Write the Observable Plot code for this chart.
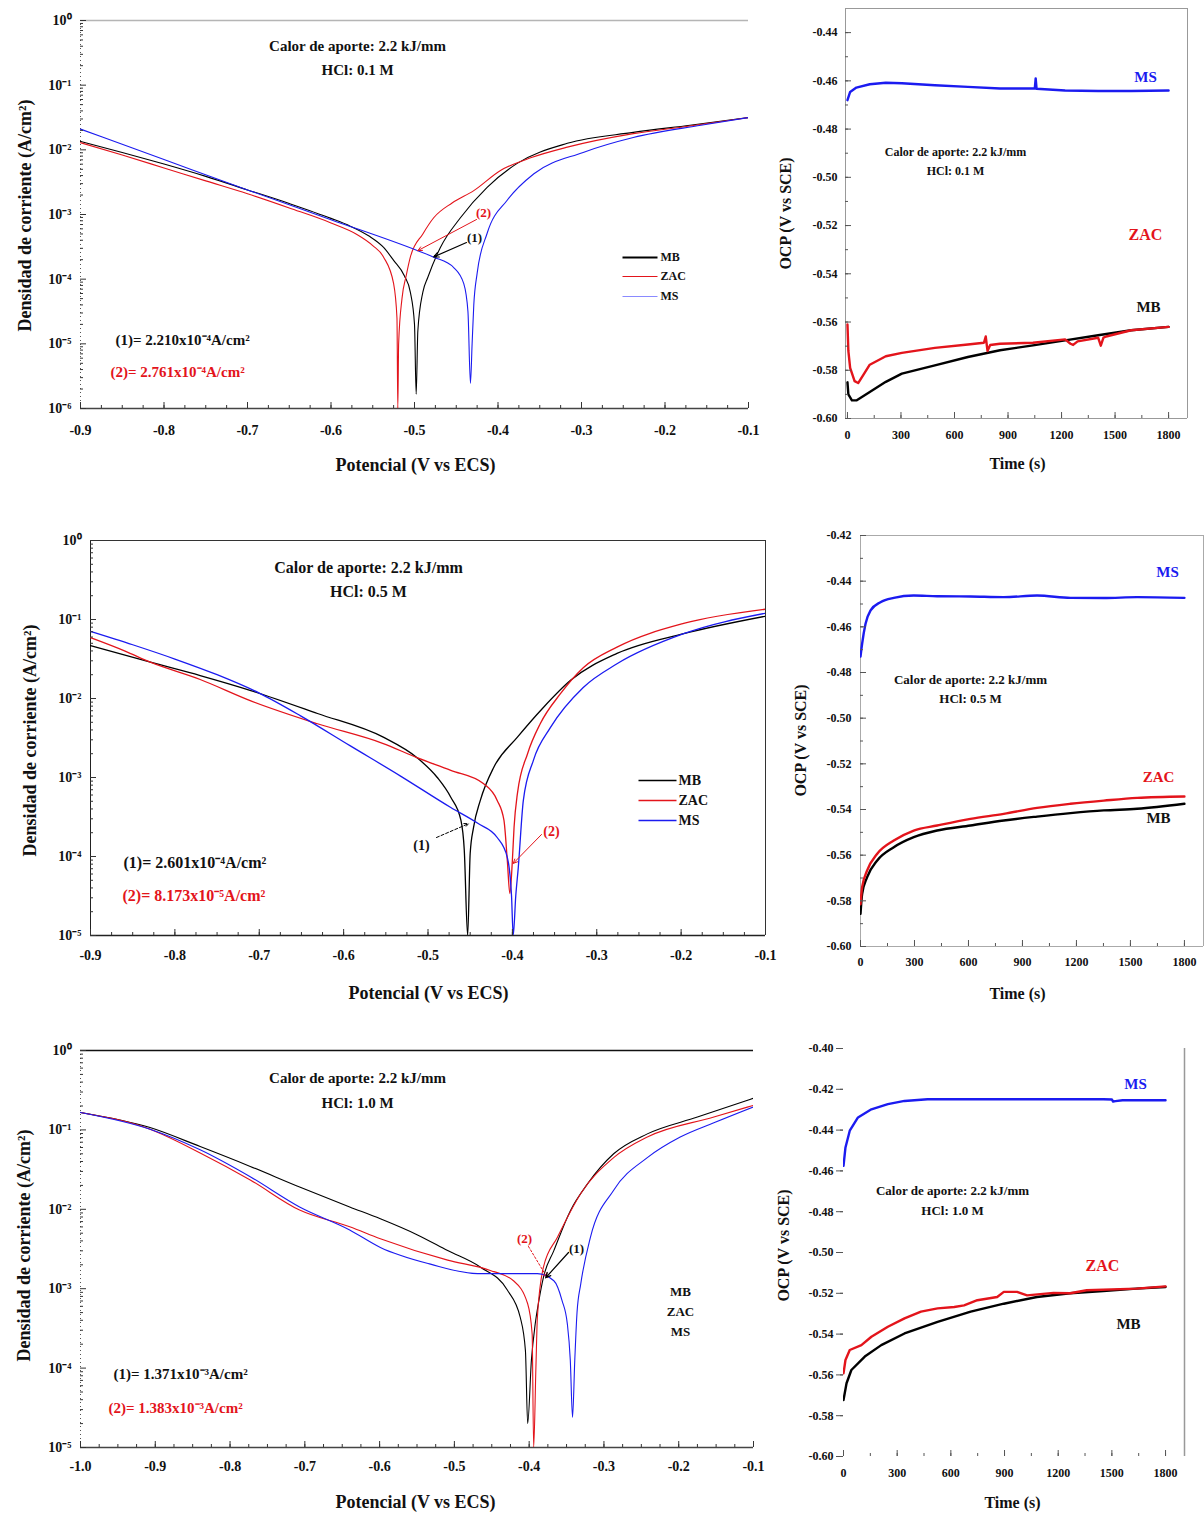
<!DOCTYPE html>
<html><head><meta charset="utf-8">
<script src="https://cdn.jsdelivr.net/npm/d3@7"></script>
<script src="https://cdn.jsdelivr.net/npm/@observablehq/plot@0.6"></script>
<style>
body{margin:0;background:#fff;}
#fig{position:relative;width:1204px;height:1515px;overflow:hidden;background:#fff;}
#fig > div{position:absolute;}
</style></head><body><div id="fig"></div>
<script>
// ---------------- DATA ----------------
const series = ["MB", "ZAC", "MS"];
// Tafel 0.1 M
const A_MB_E = [-0.9,-0.85,-0.8,-0.75,-0.7,-0.65,-0.6,-0.577,-0.555,-0.537,-0.525,-0.512,-0.505,-0.5,-0.498,-0.496,-0.49,-0.484,-0.469,-0.445,-0.413,-0.377,-0.317,-0.238,-0.17,-0.1];
const A_MB_I = [1.35e-2,9.12e-3,6.03e-3,3.89e-3,2.40e-3,1.48e-3,8.71e-4,6.61e-4,4.68e-4,3.09e-4,1.95e-4,1.12e-4,6.31e-5,2.0e-5,1.66e-6,1.58e-5,6.31e-5,1.07e-4,3.09e-4,8.91e-4,2.63e-3,6.17e-3,1.26e-2,1.86e-2,2.40e-2,3.16e-2];
const A_ZAC_E = [-0.9,-0.85,-0.8,-0.75,-0.7,-0.65,-0.6,-0.57,-0.55,-0.537,-0.525,-0.521,-0.520,-0.519,-0.515,-0.51,-0.505,-0.49,-0.477,-0.455,-0.429,-0.397,-0.36,-0.317,-0.238,-0.17,-0.1];
const A_ZAC_I = [1.29e-2,8.32e-3,5.25e-3,3.31e-3,2.09e-3,1.26e-3,7.41e-4,5.01e-4,3.31e-4,2.19e-4,8.51e-5,2.51e-5,1.0e-6,1.0e-5,5.01e-5,1.12e-4,2.19e-4,5.01e-4,8.91e-4,1.51e-3,2.34e-3,4.79e-3,7.59e-3,1.10e-2,1.78e-2,2.34e-2,3.16e-2];
const A_MS_E = [-0.9,-0.8,-0.7,-0.6,-0.496,-0.477,-0.453,-0.441,-0.436,-0.433,-0.431,-0.429,-0.425,-0.413,-0.389,-0.357,-0.298,-0.238,-0.157,-0.1];
const A_MS_I = [2.09e-2,7.08e-3,2.40e-3,8.32e-4,2.75e-4,2.19e-4,1.51e-4,8.51e-5,3.16e-5,2.45e-6,1.0e-5,3.98e-5,1.23e-4,5.13e-4,1.66e-3,4.27e-3,9.12e-3,1.55e-2,2.40e-2,3.16e-2];
const A_icorr = [2.210e-4, 2.761e-4];
const A_tipE = [-0.477, -0.496];
// Tafel 0.5 M
const C_MB_E = [-0.9,-0.829,-0.77,-0.71,-0.631,-0.553,-0.513,-0.489,-0.473,-0.461,-0.457,-0.453,-0.45,-0.446,-0.438,-0.422,-0.394,-0.363,-0.331,-0.276,-0.197,-0.1];
const C_MB_I = [4.68e-2,2.88e-2,1.95e-2,1.26e-2,6.46e-3,3.24e-3,1.78e-3,1.0e-3,5.62e-4,2.88e-4,1.20e-4,1.0e-5,1.10e-4,2.34e-4,5.13e-4,1.35e-3,3.24e-3,7.76e-3,1.70e-2,3.72e-2,6.61e-2,0.110];
const C_ZAC_E = [-0.9,-0.859,-0.829,-0.77,-0.71,-0.631,-0.553,-0.513,-0.473,-0.434,-0.418,-0.41,-0.406,-0.403,-0.4,-0.398,-0.394,-0.382,-0.367,-0.343,-0.316,-0.276,-0.197,-0.1];
const C_ZAC_I = [5.89e-2,3.98e-2,2.88e-2,1.74e-2,9.33e-3,4.79e-3,2.69e-3,1.78e-3,1.23e-3,8.32e-4,5.13e-4,2.88e-4,8.91e-5,3.39e-5,8.91e-5,2.34e-4,6.31e-4,2.0e-3,4.79e-3,1.15e-2,2.45e-2,4.47e-2,8.91e-2,0.135];
const C_MS_E = [-0.9,-0.85,-0.8,-0.75,-0.7,-0.651,-0.592,-0.533,-0.473,-0.441,-0.418,-0.406,-0.401,-0.399,-0.396,-0.393,-0.387,-0.375,-0.355,-0.316,-0.276,-0.197,-0.1];
const C_MS_I = [7.08e-2,4.79e-2,3.16e-2,2.0e-2,1.17e-2,6.03e-3,2.51e-3,1.05e-3,4.17e-4,2.63e-4,1.74e-4,9.77e-5,3.16e-5,1.0e-5,3.16e-5,7.24e-5,5.13e-4,1.66e-3,4.27e-3,1.38e-2,2.75e-2,6.61e-2,0.120];
const C_icorr = [2.601e-4, 8.173e-5];
const C_tipE = [-0.452, -0.399];
// Tafel 1.0 M
const E_MB_E = [-1.0,-0.907,-0.84,-0.773,-0.707,-0.64,-0.599,-0.55,-0.509,-0.465,-0.429,-0.412,-0.405,-0.402,-0.397,-0.392,-0.387,-0.381,-0.367,-0.345,-0.322,-0.287,-0.242,-0.175,-0.1];
const E_MB_I = [0.166,0.107,6.17e-2,3.47e-2,1.91e-2,1.07e-2,7.59e-3,4.79e-3,3.02e-3,1.86e-3,9.55e-4,4.37e-4,1.66e-4,2.0e-5,1.26e-4,3.55e-4,7.08e-4,1.38e-3,3.02e-3,9.55e-3,2.09e-2,5.01e-2,8.91e-2,0.145,0.251];
const E_ZAC_E = [-1.0,-0.907,-0.84,-0.773,-0.707,-0.64,-0.599,-0.509,-0.452,-0.421,-0.402,-0.396,-0.394,-0.391,-0.389,-0.381,-0.362,-0.331,-0.287,-0.242,-0.153,-0.1];
const E_ZAC_I = [0.166,0.102,5.13e-2,2.34e-2,9.77e-3,6.03e-3,4.27e-3,2.29e-3,1.70e-3,1.26e-3,6.46e-4,2.69e-4,1.0e-5,1.0e-4,4.37e-4,1.86e-3,4.47e-3,1.58e-2,4.47e-2,8.13e-2,0.145,0.204];
const E_MS_E = [-1.0,-0.907,-0.84,-0.773,-0.707,-0.64,-0.599,-0.532,-0.469,-0.389,-0.367,-0.356,-0.349,-0.345,-0.342,-0.339,-0.336,-0.331,-0.318,-0.287,-0.242,-0.198,-0.153,-0.1];
const E_MS_I = [0.166,0.102,5.62e-2,2.57e-2,1.07e-2,5.50e-3,3.31e-3,2.04e-3,1.55e-3,1.55e-3,1.26e-3,7.08e-4,3.63e-4,1.26e-4,2.40e-5,1.26e-4,5.01e-4,1.15e-3,4.47e-3,1.74e-2,4.47e-2,8.13e-2,0.123,0.195];
const E_icorr = [1.371e-3, 1.383e-3];
const E_tipE = [-0.378, -0.376];
// OCP 0.1 M
const B_MS_t = [0,15,50,125,215,305,490,675,855,1040,1050,1055,1060,1220,1405,1590,1800];
const B_MS_V = [-0.468,-0.4646,-0.4628,-0.4614,-0.4608,-0.461,-0.4618,-0.4625,-0.4632,-0.4632,-0.4632,-0.459,-0.4633,-0.464,-0.4642,-0.4642,-0.464];
const B_MB_t = [0,5,25,50,125,215,305,490,675,855,1040,1220,1405,1590,1800];
const B_MB_V = [-0.585,-0.590,-0.5925,-0.5925,-0.589,-0.5848,-0.5814,-0.578,-0.5745,-0.5717,-0.5697,-0.5676,-0.5655,-0.5634,-0.562];
const B_ZAC_t = [0,5,15,40,60,90,125,215,305,490,675,765,775,785,800,855,1040,1220,1250,1265,1290,1405,1420,1435,1450,1590,1800];
const B_ZAC_V = [-0.561,-0.572,-0.579,-0.5845,-0.5853,-0.5818,-0.5777,-0.5742,-0.5728,-0.5707,-0.5693,-0.5686,-0.566,-0.572,-0.5695,-0.569,-0.5686,-0.5672,-0.569,-0.5695,-0.568,-0.5665,-0.5698,-0.5665,-0.566,-0.5634,-0.562];
// OCP 0.5 M
const D_MS_t = [0,9,28,56,111,185,296,426,611,796,981,1167,1352,1537,1800];
const D_MS_V = [-0.473,-0.4674,-0.4587,-0.4528,-0.4492,-0.4473,-0.4463,-0.4466,-0.4467,-0.447,-0.4463,-0.4473,-0.4474,-0.447,-0.4473];
const D_t = [0,9,37,93,185,296,426,611,796,981,1167,1352,1537,1800];
const D_ZAC_V = [-0.5815,-0.574,-0.5667,-0.5594,-0.5536,-0.5492,-0.547,-0.5441,-0.5419,-0.5393,-0.5375,-0.5361,-0.5349,-0.5343];
const D_MB_V = [-0.5857,-0.577,-0.5696,-0.5623,-0.5565,-0.5521,-0.5492,-0.547,-0.5448,-0.5431,-0.5416,-0.5404,-0.5397,-0.5375];
// OCP 1.0 M
const F_MS_t = [0,11,35,81,156,248,341,470,711,1081,1452,1500,1507,1520,1560,1800];
const F_MS_V = [-0.4575,-0.4485,-0.4403,-0.4338,-0.4298,-0.4273,-0.4257,-0.4249,-0.4249,-0.4249,-0.4249,-0.425,-0.426,-0.4258,-0.4254,-0.4254];
const F_ZAC_t = [0,11,35,100,156,248,341,433,526,619,674,748,859,896,970,1026,1174,1267,1359,1637,1800];
const F_ZAC_V = [-0.5592,-0.5527,-0.5478,-0.5454,-0.5413,-0.5364,-0.5323,-0.529,-0.5274,-0.5267,-0.5259,-0.5234,-0.5218,-0.5193,-0.5193,-0.521,-0.5198,-0.52,-0.5185,-0.5177,-0.5166];
const F_MB_t = [0,17,44,119,211,341,526,711,896,1081,1267,1452,1637,1800];
const F_MB_V = [-0.5723,-0.5641,-0.5576,-0.551,-0.5454,-0.5397,-0.534,-0.529,-0.5251,-0.5218,-0.52,-0.5189,-0.5177,-0.5169];
// Tick values
const potTicks9 = [-0.9,-0.8,-0.7,-0.6,-0.5,-0.4,-0.3,-0.2,-0.1];
const potTicks10 = [-1.0,-0.9,-0.8,-0.7,-0.6,-0.5,-0.4,-0.3,-0.2,-0.1];
const logTicks6 = [1e-6,1e-5,1e-4,1e-3,1e-2,1e-1,1];
const logTicks5 = [1e-5,1e-4,1e-3,1e-2,1e-1,1];
const timeTicks = [0,300,600,900,1200,1500,1800];
const ocpTicksB = [-0.60,-0.58,-0.56,-0.54,-0.52,-0.50,-0.48,-0.46,-0.44];
const ocpTicksD = [-0.60,-0.58,-0.56,-0.54,-0.52,-0.50,-0.48,-0.46,-0.44,-0.42];
const ocpTicksF = [-0.60,-0.58,-0.56,-0.54,-0.52,-0.50,-0.48,-0.46,-0.44,-0.42,-0.40];

// ---------------- HELPERS ----------------
const FONT = '"Liberation Serif","Times New Roman",serif';
const RED = "#e3141b", BLUE = "#1b1bf0", BLACK = "#000000";
const colorScale = {domain: series, range: [BLACK, RED, BLUE]};
const SUP = {"-":"⁻","0":"⁰","1":"¹","2":"²","3":"³","4":"⁴","5":"⁵","6":"⁶","7":"⁷","8":"⁸","9":"⁹"};
const sup = s => String(s).split("").map(c => SUP[c] || c).join("");
const pow10 = d => "10" + sup(Math.round(Math.log10(d)));
const icLabel = (n, v) => { const e = Math.floor(Math.log10(v)); return `(${n})= ${(v / 10 ** e).toFixed(3)}x10${sup(e)}A/cm²`; };
const logMinor = dom => { const out = []; for (let e = Math.round(Math.log10(dom[0])); e < Math.round(Math.log10(dom[1])); e++) for (let m = 2; m <= 9; m++) out.push(m * 10 ** e); return out; };
const stepTicks = (a, b, s) => d3.range(Math.round(a / s), Math.round(b / s) + 1).map(k => +(k * s).toFixed(4));

function build(p) {
  const pw = p.fx1 - p.fx0, ph = p.fy1 - p.fy0;
  const xs = d3.scaleLinear(p.xDomain, [p.fx0, p.fx1]);
  const ys = (p.log ? d3.scaleLog() : d3.scaleLinear()).domain(p.yDomain).range([p.fy1, p.fy0]);
  const P = ([px, py]) => [xs.invert(px), ys.invert(py)];
  const rows = p.series.flatMap(s => s.x.map((v, i) => ({x: v, y: s.y[i], k: s.k})));
  const tc = p.tickColor || "#333";
  const marks = [];
  const f = p.frame;
  if (f.top) marks.push(Plot.ruleY([p.yDomain[1]], {stroke: f.top, strokeWidth: f.topW || 1}));
  if (f.bottom) marks.push(Plot.ruleY([p.yDomain[0]], {stroke: f.bottom, strokeWidth: f.bottomW || 1}));
  if (f.left) marks.push(Plot.ruleX([p.xDomain[0]], {stroke: f.left, strokeWidth: 1, strokeDasharray: f.leftDash}));
  if (f.right) marks.push(Plot.ruleX([p.xDomain[1]], {stroke: f.right, strokeWidth: f.rightW || 1}));
  marks.push(Plot.line(rows, {x: "x", y: "y", z: "k", stroke: "k", strokeWidth: p.lw, curve: p.curve, clip: true}));
  // inward ticks
  marks.push(Plot.ruleX(p.xTicks, {stroke: tc, insetTop: ph - 6}));
  marks.push(Plot.ruleX(p.xMinor, {stroke: tc, insetTop: ph - 3}));
  if (p.yOut) {
    marks.push(Plot.ruleY(p.yTicks, {stroke: tc, insetLeft: -7, insetRight: pw}));
    marks.push(Plot.ruleY(p.yMinor, {stroke: tc, insetLeft: -3, insetRight: pw}));
  } else {
    marks.push(Plot.ruleY(p.yTicks, {stroke: tc, insetRight: pw - 6}));
    marks.push(Plot.ruleY(p.yMinor, {stroke: tc, insetRight: pw - 3}));
  }
  marks.push(Plot.axisX({ticks: p.xTicks, tickFormat: p.xFmt, tickSize: 0, tickPadding: p.xPad, fontSize: p.tickFs, fontWeight: "bold", label: null}));
  marks.push(Plot.axisY({ticks: p.yTicks, tickFormat: p.yFmt, tickSize: 0, tickPadding: p.yPad, fontSize: p.tickFs, fontWeight: "bold", label: null}));
  for (const l of (p.links || [])) {
    const a = l.p1 ? P(l.p1) : l.d1, b = l.p2 ? P(l.p2) : l.d2;
    const mk = l.arrow ? Plot.arrow : Plot.link;
    marks.push(mk([{x1: a[0], y1: a[1], x2: b[0], y2: b[1]}], {x1: "x1", y1: "y1", x2: "x2", y2: "y2", stroke: l.c || BLACK, strokeWidth: l.w || 1, strokeDasharray: l.dash, headLength: 7, headAngle: 50}));
  }
  for (const t of p.texts) {
    marks.push(Plot.text([t.s], {frameAnchor: "top-left", dx: t.px - p.fx0, dy: t.py - p.fy0, text: d => d,
      fill: t.c || "#111", fontSize: t.fs, fontWeight: "bold", fontFamily: FONT,
      textAnchor: t.a || "middle", lineAnchor: "middle", rotate: t.r || 0}));
  }
  const svg = Plot.plot({
    width: p.w, height: p.h,
    marginLeft: p.fx0 - p.left, marginRight: p.left + p.w - p.fx1,
    marginTop: p.fy0 - p.top, marginBottom: p.top + p.h - p.fy1,
    x: {type: "linear", domain: p.xDomain},
    y: {type: p.log ? "log" : "linear", domain: p.yDomain},
    color: colorScale,
    style: {fontFamily: FONT, fontWeight: "bold", background: "transparent", color: "#111"},
    marks
  });
  const div = document.createElement("div");
  div.style.left = p.left + "px"; div.style.top = p.top + "px";
  div.style.width = p.w + "px"; div.style.height = p.h + "px";
  div.appendChild(svg);
  document.getElementById("fig").appendChild(div);
}

const potFmt = d => d.toFixed(1);
const ocpFmt = d => d.toFixed(2);
const timeFmt = d => String(d);
const ylab = "Densidad de corriente (A/cm²)";
const xlab = "Potencial (V vs ECS)";

// ---------------- PANELS ----------------
build({
  left: 0, top: 0, w: 780, h: 490, fx0: 80, fy0: 20, fx1: 748, fy1: 408,
  log: true, xDomain: [-0.9, -0.1], yDomain: [1e-6, 1],
  series: [{k: "MB", x: A_MB_E, y: A_MB_I}, {k: "ZAC", x: A_ZAC_E, y: A_ZAC_I}, {k: "MS", x: A_MS_E, y: A_MS_I}],
  lw: 1.1, curve: "monotone-x",
  xTicks: potTicks9, xMinor: stepTicks(-0.9, -0.1, 0.025), yTicks: logTicks6, yMinor: logMinor([1e-6, 1]),
  xFmt: potFmt, yFmt: pow10, xPad: 17, yPad: 9, tickFs: 14,
  frame: {top: "#b5b5b5", topW: 1.5, bottom: "#444", bottomW: 1.5, left: "#555", leftDash: "1,3"},
  links: [
    {p1: [622, 257], p2: [657, 257], c: BLACK, w: 2},
    {p1: [622, 276], p2: [657, 276], c: RED, w: 1},
    {p1: [622, 296], p2: [657, 296], c: "#8a8aff", w: 1},
    {p1: [476, 219], d2: [A_tipE[1], A_icorr[1]], c: RED, w: 1, arrow: true},
    {p1: [466, 242], d2: [A_tipE[0], A_icorr[0]], c: BLACK, w: 1.2, arrow: true}
  ],
  texts: [
    {s: "Calor de aporte: 2.2 kJ/mm", px: 357, py: 46, fs: 15},
    {s: "HCl: 0.1 M", px: 357, py: 70, fs: 15},
    {s: "MB", px: 660, py: 257, fs: 12, a: "start"},
    {s: "ZAC", px: 660, py: 276, fs: 12, a: "start"},
    {s: "MS", px: 660, py: 296, fs: 12, a: "start"},
    {s: "(2)", px: 483, py: 212, fs: 13, c: RED},
    {s: "(1)", px: 474, py: 237, fs: 13},
    {s: icLabel(1, A_icorr[0]), px: 115, py: 340, fs: 15, a: "start"},
    {s: icLabel(2, A_icorr[1]), px: 110, py: 372, fs: 15, a: "start", c: RED},
    {s: xlab, px: 415, py: 465, fs: 18},
    {s: ylab, px: 25, py: 215, fs: 18, r: -90}
  ]
});

build({
  left: 775, top: 0, w: 429, h: 490, fx0: 845, fy0: 8, fx1: 1187, fy1: 418,
  log: false, xDomain: [-11, 1906], yDomain: [-0.60, -0.43],
  series: [{k: "MB", x: B_MB_t, y: B_MB_V}, {k: "ZAC", x: B_ZAC_t, y: B_ZAC_V}, {k: "MS", x: B_MS_t, y: B_MS_V}],
  lw: 2.4, curve: "linear",
  xTicks: timeTicks, xMinor: stepTicks(0, 1800, 150), yTicks: ocpTicksB, yMinor: stepTicks(-0.60, -0.44, 0.01),
  xFmt: timeFmt, yFmt: ocpFmt, xPad: 12, yPad: 8, tickFs: 12, tickColor: "#555",
  frame: {top: "#999", bottom: "#999", left: "#999", right: "#999"},
  texts: [
    {s: "MS", px: 1145, py: 77, fs: 15, c: BLUE},
    {s: "ZAC", px: 1145, py: 234, fs: 16, c: RED},
    {s: "MB", px: 1148, py: 307, fs: 15},
    {s: "Calor de aporte: 2.2 kJ/mm", px: 955, py: 152, fs: 12},
    {s: "HCl: 0.1 M", px: 955, py: 171, fs: 12},
    {s: "Time (s)", px: 1017, py: 463, fs: 16},
    {s: "OCP (V vs SCE)", px: 785, py: 213, fs: 16, r: -90}
  ]
});

build({
  left: 0, top: 510, w: 780, h: 510, fx0: 90, fy0: 540, fx1: 765, fy1: 935,
  log: true, xDomain: [-0.9, -0.1], yDomain: [1e-5, 1],
  series: [{k: "MB", x: C_MB_E, y: C_MB_I}, {k: "ZAC", x: C_ZAC_E, y: C_ZAC_I}, {k: "MS", x: C_MS_E, y: C_MS_I}],
  lw: 1.3, curve: "monotone-x",
  xTicks: potTicks9, xMinor: stepTicks(-0.9, -0.1, 0.025), yTicks: logTicks5, yMinor: logMinor([1e-5, 1]),
  xFmt: potFmt, yFmt: pow10, xPad: 15, yPad: 9, tickFs: 14,
  frame: {top: "#333", bottom: "#222", bottomW: 1.5, left: "#222", right: "#333"},
  links: [
    {p1: [638, 780], p2: [676, 780], c: BLACK, w: 1.5},
    {p1: [638, 800], p2: [676, 800], c: RED, w: 1.5},
    {p1: [638, 820], p2: [676, 820], c: BLUE, w: 1.5},
    {p1: [436, 837], d2: [C_tipE[0], C_icorr[0]], c: BLACK, w: 1, dash: "3,2", arrow: true},
    {p1: [541, 834], d2: [C_tipE[1], C_icorr[1]], c: RED, w: 1, arrow: true}
  ],
  texts: [
    {s: "Calor de aporte: 2.2 kJ/mm", px: 368, py: 567, fs: 16},
    {s: "HCl: 0.5 M", px: 368, py: 591, fs: 16},
    {s: "MB", px: 678, py: 780, fs: 14, a: "start"},
    {s: "ZAC", px: 678, py: 800, fs: 14, a: "start"},
    {s: "MS", px: 678, py: 820, fs: 14, a: "start"},
    {s: "(1)", px: 421, py: 845, fs: 14},
    {s: "(2)", px: 551, py: 831, fs: 14, c: RED},
    {s: icLabel(1, C_icorr[0]), px: 123, py: 862, fs: 16, a: "start"},
    {s: icLabel(2, C_icorr[1]), px: 122, py: 895, fs: 16, a: "start", c: RED},
    {s: xlab, px: 428, py: 993, fs: 18},
    {s: ylab, px: 30, py: 740, fs: 18, r: -90}
  ]
});

build({
  left: 775, top: 510, w: 429, h: 510, fx0: 860, fy0: 535, fx1: 1203, fy1: 946,
  log: false, xDomain: [0, 1906], yDomain: [-0.60, -0.42],
  series: [{k: "MB", x: D_t, y: D_MB_V}, {k: "ZAC", x: D_t, y: D_ZAC_V}, {k: "MS", x: D_MS_t, y: D_MS_V}],
  lw: 2.4, curve: "monotone-x",
  xTicks: timeTicks, xMinor: stepTicks(0, 1800, 150), yTicks: ocpTicksD, yMinor: stepTicks(-0.60, -0.42, 0.01),
  xFmt: timeFmt, yFmt: ocpFmt, xPad: 11, yPad: 9, tickFs: 12, tickColor: "#555",
  frame: {top: "#aaa", bottom: "#aaa", left: "#aaa", right: "#aaa"},
  texts: [
    {s: "MS", px: 1167, py: 572, fs: 15, c: BLUE},
    {s: "ZAC", px: 1158, py: 777, fs: 15, c: RED},
    {s: "MB", px: 1158, py: 818, fs: 15},
    {s: "Calor de aporte: 2.2 kJ/mm", px: 970, py: 679, fs: 13},
    {s: "HCl: 0.5 M", px: 970, py: 698, fs: 13},
    {s: "Time (s)", px: 1017, py: 993, fs: 16},
    {s: "OCP (V vs SCE)", px: 800, py: 740, fs: 16, r: -90}
  ]
});

build({
  left: 0, top: 1020, w: 780, h: 495, fx0: 80, fy0: 1050, fx1: 753, fy1: 1447,
  log: true, xDomain: [-1.0, -0.1], yDomain: [1e-5, 1],
  series: [{k: "MB", x: E_MB_E, y: E_MB_I}, {k: "ZAC", x: E_ZAC_E, y: E_ZAC_I}, {k: "MS", x: E_MS_E, y: E_MS_I}],
  lw: 1.1, curve: "monotone-x",
  xTicks: potTicks10, xMinor: stepTicks(-1.0, -0.1, 0.025), yTicks: logTicks5, yMinor: logMinor([1e-5, 1]),
  xFmt: potFmt, yFmt: pow10, xPad: 14, yPad: 9, tickFs: 14,
  frame: {top: "#111", topW: 1.6, bottom: "#444", bottomW: 1.5, left: "#555", leftDash: "1,3"},
  links: [
    {p1: [528, 1246], d2: [E_tipE[1], E_icorr[1]], c: RED, w: 1, dash: "2,2", arrow: true},
    {p1: [568, 1252], d2: [E_tipE[0], E_icorr[0]], c: BLACK, w: 1.2, arrow: true}
  ],
  texts: [
    {s: "Calor de aporte: 2.2 kJ/mm", px: 357, py: 1078, fs: 15},
    {s: "HCl: 1.0 M", px: 357, py: 1103, fs: 15},
    {s: "MB", px: 680, py: 1291, fs: 13},
    {s: "ZAC", px: 680, py: 1311, fs: 13},
    {s: "MS", px: 680, py: 1331, fs: 13},
    {s: "(2)", px: 524, py: 1238, fs: 13, c: RED},
    {s: "(1)", px: 576, py: 1248, fs: 13},
    {s: icLabel(1, E_icorr[0]), px: 113, py: 1374, fs: 15, a: "start"},
    {s: icLabel(2, E_icorr[1]), px: 108, py: 1408, fs: 15, a: "start", c: RED},
    {s: xlab, px: 415, py: 1502, fs: 18},
    {s: ylab, px: 24, py: 1245, fs: 18, r: -90}
  ]
});

build({
  left: 775, top: 1020, w: 429, h: 495, fx0: 843, fy0: 1048, fx1: 1184, fy1: 1456,
  log: false, xDomain: [0, 1906], yDomain: [-0.60, -0.40],
  series: [{k: "MB", x: F_MB_t, y: F_MB_V}, {k: "ZAC", x: F_ZAC_t, y: F_ZAC_V}, {k: "MS", x: F_MS_t, y: F_MS_V}],
  lw: 2.4, curve: "linear", yOut: true,
  xTicks: timeTicks, xMinor: stepTicks(0, 1800, 150), yTicks: ocpTicksF, yMinor: stepTicks(-0.59, -0.41, 0.02),
  xFmt: timeFmt, yFmt: ocpFmt, xPad: 12, yPad: 10, tickFs: 12, tickColor: "#555",
  frame: {right: "#999", rightW: 1.5},
  texts: [
    {s: "MS", px: 1135, py: 1084, fs: 15, c: BLUE},
    {s: "ZAC", px: 1102, py: 1265, fs: 16, c: RED},
    {s: "MB", px: 1128, py: 1324, fs: 15},
    {s: "Calor de aporte: 2.2 kJ/mm", px: 952, py: 1190, fs: 13},
    {s: "HCl: 1.0 M", px: 952, py: 1210, fs: 13},
    {s: "Time (s)", px: 1012, py: 1502, fs: 16},
    {s: "OCP (V vs SCE)", px: 783, py: 1245, fs: 16, r: -90}
  ]
});
</script></body></html>
